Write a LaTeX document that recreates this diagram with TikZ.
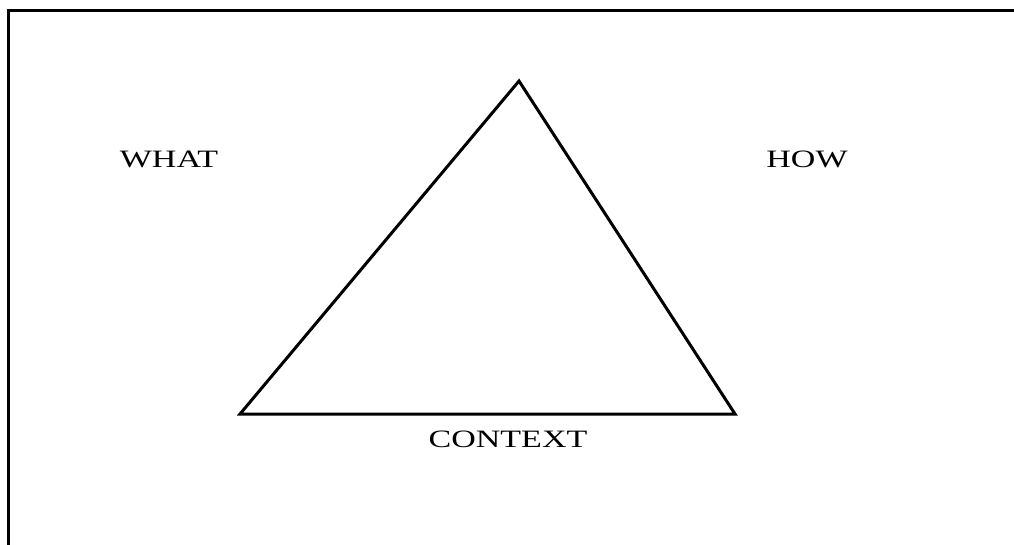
\documentclass[tikz,border=0pt]{standalone}
\usepackage{fontspec}
\setmainfont[FakeStretch=1.36]{Liberation Serif}
\usetikzlibrary{positioning}
\tikzset{
    lado/.style={line width=3pt, line join=miter},
    marco/.style={line width=3pt},
    rotulo/.style={anchor=base, inner sep=0pt, font=\fontsize{25}{30}\selectfont},
}

\begin{document}
\begin{tikzpicture}[x=1pt, y=-1pt]
\useasboundingbox (0,0) rectangle (1014,545);

% Marco: solo lados superior e izquierdo
\coordinate (esqsup) at (8,11);
\coordinate (supder) at (1014,11);
\coordinate (izqinf) at (8,545);
\draw[marco] (supder) -- (esqsup) -- (izqinf);

% Triangulo
\coordinate (cima) at (519,81);
\coordinate (izq) at (240,414);
\coordinate (der) at (735,414);
\draw[lado] (cima) -- (izq) -- (der) -- cycle;

% Rotulos
\node[rotulo] (what) at (169,168) {WHAT};
\node[rotulo] (how) at (807,168) {HOW};
\node[rotulo] (context) at (508,447) {CONTEXT};
\end{tikzpicture}
\end{document}
